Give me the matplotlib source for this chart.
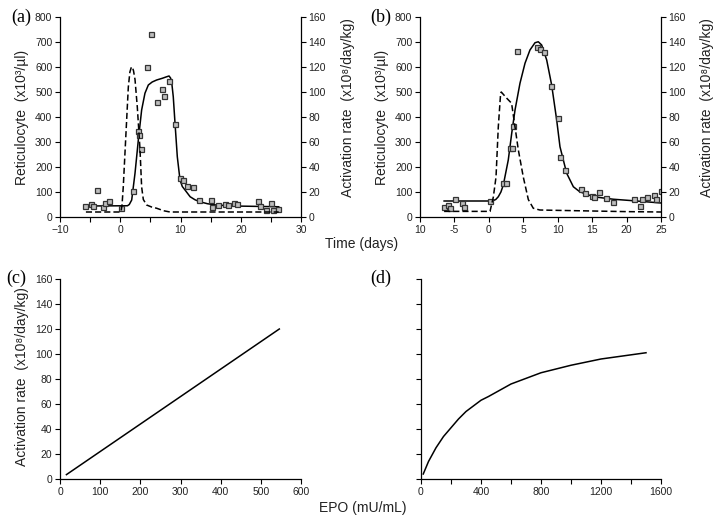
import matplotlib
matplotlib.use("Agg")
import matplotlib.pyplot as plt
import numpy as np
from matplotlib.ticker import MultipleLocator

plt.rcParams['font.family'] = ['Liberation Sans', 'DejaVu Sans']

# ---------------- data: panel (a) ----------------
a_obs_t = [-5.85, -4.9, -4.6, -3.8, -2.8, -2.5, -1.8, 0.07, 2.06, 3.0, 3.08, 3.4, 4.44, 5.05,
           6.15, 6.98, 7.32, 8.04, 9.03, 9.97, 10.36, 11.13, 12.07, 13.07, 15.06, 15.28, 16.22,
           17.33, 17.94, 18.94, 19.32, 22.92, 23.25, 24.2, 24.97, 25.3, 26.24]
a_obs_r = [44, 53, 44, 107, 40, 55, 63, 36, 103, 345, 330, 272, 600, 733,
           460, 511, 485, 544, 373, 155, 147, 125, 120, 69, 68, 40, 48,
           52, 48, 57, 51, 63, 44, 28, 57, 28, 32]
a_fit_t = [-5.85, 1.2, 1.5, 1.9, 2.45, 3.0, 3.55, 4.1, 4.66, 5.3, 6.04, 7.0, 7.7, 8.1, 8.35,
           8.53, 8.8, 9.09, 9.47, 9.92, 10.3, 10.75, 11.6, 12.4, 13.2, 14.5, 15.9, 18.8, 26.3]
a_fit_r = [44, 45, 50, 68, 175, 308, 428, 495, 528, 540, 548, 555, 561, 564, 556,
           541, 481, 375, 241, 148, 122, 108, 81, 69, 61, 53, 48, 44, 41]
a_act_t = [-5.7, 0.12, 0.3, 0.5, 0.95, 1.34, 1.6, 1.85, 2.0, 2.2, 2.45, 2.83, 3.28, 3.55,
           3.83, 4.38, 5.2, 6.04, 7.2, 8.26, 26.3]
a_act_v = [4, 4, 10, 24, 67, 104, 116, 120, 120, 117, 110, 88, 54, 24,
           14, 9.6, 8, 7, 5, 4, 4]

# ---------------- data: panel (b) ----------------
b_obs_t = [-6.55, -5.92, -5.58, -4.85, -3.88, -3.6, 0.17, 2.05, 2.5, 3.05, 3.3, 3.55, 4.13,
           7.04, 7.43, 8.06, 9.07, 10.04, 10.33, 11.1, 13.38, 14.01, 15.03, 15.27, 16.04,
           17.01, 18.08, 21.03, 22.0, 22.3, 23.01, 23.98, 24.22, 25.0]
b_obs_r = [39, 48, 35, 72, 55, 39, 65, 135, 135, 275, 275, 365, 664,
           681, 672, 659, 525, 395, 239, 188, 111, 95, 85, 81, 100,
           77, 60, 73, 43, 72, 81, 88, 72, 104]
b_fit_t = [-6.5, 0.5, 1.0, 1.37, 1.75, 2.1, 2.82, 3.32, 3.8, 4.52, 5.25, 5.97, 6.7, 7.18,
           7.67, 8.4, 9.12, 9.85, 10.33, 11.3, 12.27, 13.2, 15.2, 18.1, 21.0, 25.0]
b_fit_r = [64, 64, 70, 81, 100, 128, 228, 335, 428, 535, 615, 668, 697, 701,
           688, 628, 528, 388, 281, 175, 121, 101, 81, 71, 65, 56]
b_act_t = [-6.5, 0.17, 0.65, 1.04, 1.37, 1.71, 1.8, 2.6, 3.3, 3.8, 4.27, 5.0, 5.73, 6.45,
           7.4, 10, 15, 20, 25]
b_act_v = [4.5, 4.5, 16, 32, 72, 99, 100, 95, 91, 72, 54, 32, 14, 7,
           5.6, 5.3, 4.8, 4.3, 4.0]

# ---------------- data: panel (c) ----------------
c_epo = [16, 546]
c_act = [3.5, 120]

# ---------------- data: panel (d) ----------------
d_epo = [15, 50, 100, 150, 200, 250, 300, 400, 450, 600, 800, 1000, 1200, 1500]
d_act = [4, 14, 25, 34, 41, 48, 54, 63, 66, 76, 85, 91, 96, 101]

b_xticklabels = ['10', '-5', '0', '5', '10', '15', '20', '25']

W, H = 718, 524
fig = plt.figure(figsize=(W / 100, H / 100), dpi=100)

def rect(x0, y0, x1, y1):
    return [x0 / W, 1 - y1 / H, (x1 - x0) / W, (y1 - y0) / H]

TICK_FS = 7.5
LAB_FS = 10
TC = '#222222'
LW = 1.1

def style(ax):
    for s in ['top', 'right']:
        ax.spines[s].set_visible(False)
    for s in ['left', 'bottom']:
        ax.spines[s].set_linewidth(0.9)
    ax.tick_params(direction='out', length=3.5, width=0.8, labelsize=TICK_FS,
                   labelcolor=TC, pad=2)
    ax.tick_params(which='minor', direction='out', length=3.5, width=0.8)

def twin(ax, ylim, step):
    ax2 = ax.twinx()
    for s in ['top', 'left', 'bottom']:
        ax2.spines[s].set_visible(False)
    ax2.spines['right'].set_linewidth(0.9)
    ax2.set_ylim(*ylim)
    ax2.yaxis.set_major_locator(MultipleLocator(step))
    ax2.tick_params(direction='out', length=3.5, width=0.8, labelsize=TICK_FS,
                    labelcolor=TC, pad=2)
    return ax2

mk = dict(marker='s', linestyle='none', markersize=3.6, markerfacecolor='#bdbdbd',
          markeredgecolor='#333333', markeredgewidth=0.9, zorder=3)

# ---- (a)
axa = fig.add_axes(rect(60, 17, 301, 217))
style(axa)
axa.set_xlim(-10, 30)
axa.set_ylim(0, 800)
axa.xaxis.set_major_locator(MultipleLocator(10))
axa.xaxis.set_minor_locator(MultipleLocator(5))
axa.yaxis.set_major_locator(MultipleLocator(100))
axa2 = twin(axa, (0, 160), 20)
axa.plot(a_fit_t, a_fit_r, color='black', lw=LW)
axa.plot(a_obs_t, a_obs_r, **mk)
axa2.plot(a_act_t, a_act_v, color='black', lw=LW, linestyle=(0, (4, 2)))

# ---- (b)
axb = fig.add_axes(rect(420, 17, 661, 217))
style(axb)
axb.set_xlim(-10, 25)
axb.set_ylim(0, 800)
axb.set_xticks(np.arange(-10, 26, 5))
axb.set_xticklabels(b_xticklabels)
axb.yaxis.set_major_locator(MultipleLocator(100))
axb2 = twin(axb, (0, 160), 20)
axb.plot(b_fit_t, b_fit_r, color='black', lw=LW)
axb.plot(b_obs_t, b_obs_r, **mk)
axb2.plot(b_act_t, b_act_v, color='black', lw=LW, linestyle=(0, (4, 2)))

# ---- (c)
axc = fig.add_axes(rect(60, 279, 301, 479))
style(axc)
axc.set_xlim(0, 600)
axc.set_ylim(0, 160)
axc.xaxis.set_major_locator(MultipleLocator(100))
axc.yaxis.set_major_locator(MultipleLocator(20))
axc.plot(c_epo, c_act, color='black', lw=LW)

# ---- (d)
axd = fig.add_axes(rect(421, 279, 661, 479))
style(axd)
axd.set_xlim(0, 1600)
axd.set_ylim(0, 160)
axd.xaxis.set_major_locator(MultipleLocator(400))
axd.xaxis.set_minor_locator(MultipleLocator(200))
axd.yaxis.set_major_locator(MultipleLocator(20))
axd.set_yticklabels([])
axd.plot(d_epo, d_act, color='black', lw=LW)

# ---- labels
def ft(px, py, s, **kw):
    fig.text(px / W, 1 - py / H, s, ha='center', va='center', **kw)

ret = 'Reticulocyte  (x10\u00b3/\u00b5l)'
act = 'Activation rate  (x10\u2078/day/kg)'
ft(22, 117, ret, rotation=90, fontsize=LAB_FS, color=TC)
ft(348, 108, act, rotation=90, fontsize=LAB_FS, color=TC)
ft(382, 117, ret, rotation=90, fontsize=LAB_FS, color=TC)
ft(707, 108, act, rotation=90, fontsize=LAB_FS, color=TC)
ft(22, 377, act, rotation=90, fontsize=LAB_FS, color=TC)
ft(362, 244, 'Time (days)', fontsize=LAB_FS, color=TC)
ft(363, 508, 'EPO (mU/mL)', fontsize=LAB_FS, color=TC)

serif = ['Liberation Serif', 'DejaVu Serif']
ft(21, 17, '(a)', fontsize=13, family=serif)
ft(381, 17, '(b)', fontsize=13, family=serif)
ft(16, 278, '(c)', fontsize=13, family=serif)
ft(381, 278, '(d)', fontsize=13, family=serif)

fig.savefig('out.png', dpi=100)
